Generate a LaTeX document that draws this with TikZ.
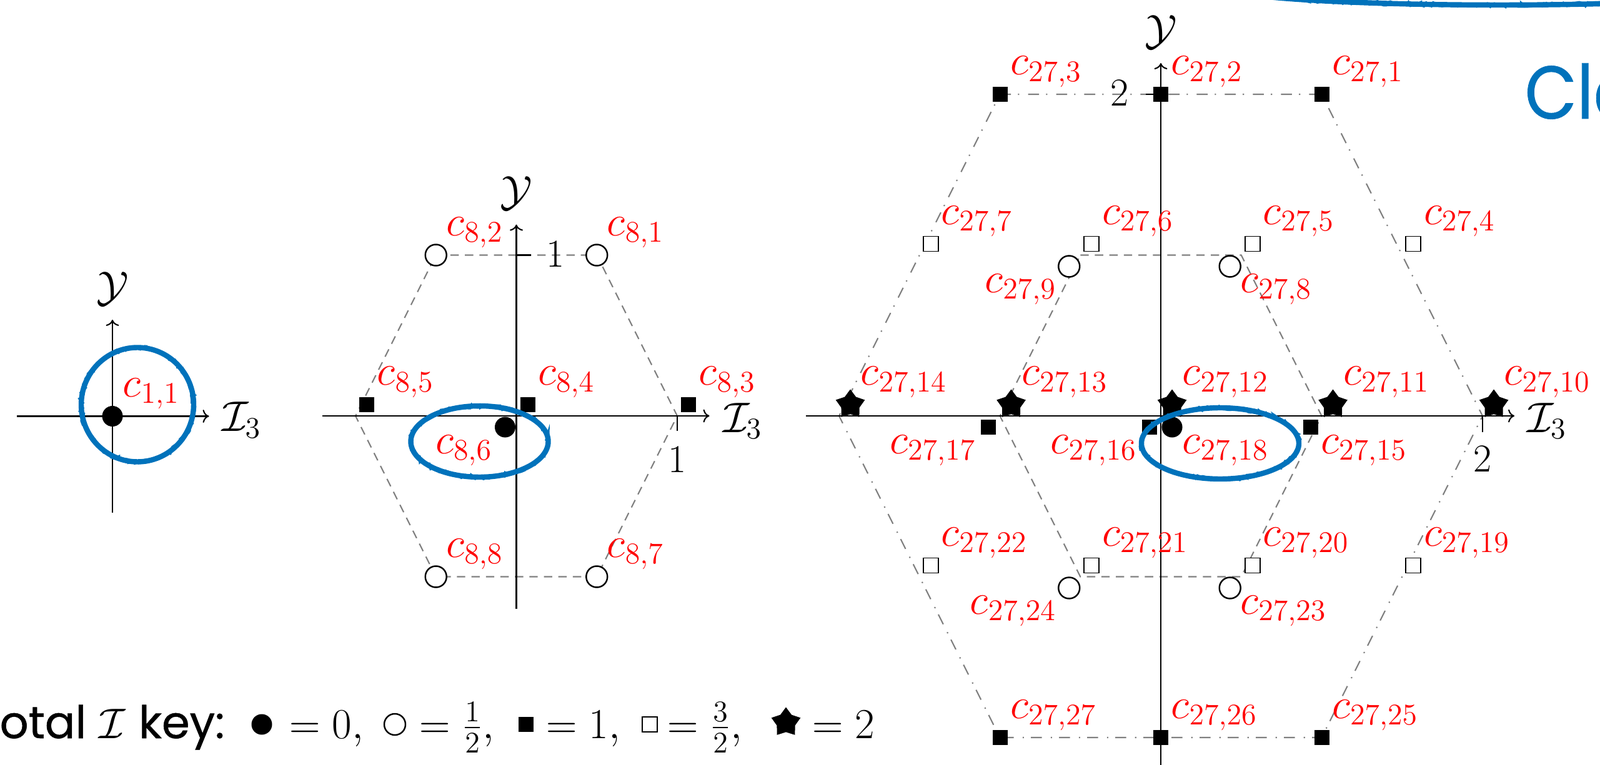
\RequirePackage{fix-cm}
\documentclass[tikz,border=0pt]{standalone}
\usepackage{fontspec}
\newfontfamily\keyfont[Scale=1.05,FakeBold=0.7]{Poppins}
\newfontfamily\titlefont[Scale=1.1,FakeStretch=0.9,FakeBold=0.7]{Poppins}
\usetikzlibrary{arrows.meta,shapes.geometric,decorations.pathmorphing}
\definecolor{pen}{RGB}{0,114,187}
\definecolor{hexgray}{RGB}{128,128,128}
\newcommand{\labsize}{\fontsize{19.5}{23}\selectfont}
\newcommand{\ticksize}{\fontsize{18}{22}\selectfont}

\begin{document}
\begin{tikzpicture}[
  axisline/.style={line width=0.6pt, -{To[length=1mm,width=2.1mm]}},
  axtick/.style={line width=0.6pt},
  hexdash/.style={draw=hexgray, line width=0.6pt, dash pattern=on 3.8pt off 2.8pt},
  hexdot/.style={draw=hexgray, line width=0.6pt,
    dash pattern=on 5pt off 3.2pt on 0.6pt off 4pt},
  fdot/.style={circle, fill=black, inner sep=0pt, minimum size=3.3mm},
  odot/.style={circle, draw=black, fill=white, line width=0.7pt,
    inner sep=0pt, minimum size=3.4mm},
  fsq/.style={rectangle, fill=black, inner sep=0pt, minimum size=2.4mm},
  osq/.style={rectangle, draw=black, fill=white, line width=0.5pt,
    inner sep=0pt, minimum size=2.4mm},
  fstar/.style={star, star points=5, star point ratio=1.6, fill=black,
    inner sep=0pt, minimum size=4.9mm},
  lab/.style={text=red, inner sep=0pt, font=\labsize},
  ar/.style={lab, anchor=base west, xshift=1.6mm, yshift=3.1mm},
  br/.style={lab, anchor=base west, xshift=1.6mm, yshift=-4.2mm},
  bl/.style={lab, anchor=base east, xshift=-2mm, yshift=-4.2mm},
  axlab/.style={inner sep=0pt, font=\labsize},
  ticklab/.style={inner sep=0pt, font=\ticksize},
  keytext/.style={inner sep=0pt, font=\labsize, anchor=base west},
  ring/.style={draw=pen, line width=2.4pt},
  roughring/.style={draw=pen, line width=1.3pt, decorate,
    decoration={random steps, segment length=1.2pt, amplitude=0.8pt}}
]
\useasboundingbox (0,0) rectangle (25.61,-12.25);

% Singlet: one state at the origin.
\begin{scope}[shift={(1.80,-6.665)}, x=2.575cm, y=2.575cm]
\draw[axisline] (-0.595,0) -- (0.6,0);
\draw[axisline] (0,-0.6) -- (0,0.6);
\node[axlab, anchor=west] (d1i) at (0.6,0) [xshift=2mm, yshift=-0.6mm] {$\mathcal{I}_3$};
\node[axlab] (d1y) at (0,0.6) [yshift=5mm] {$\mathcal{Y}$};

\node[fdot] (c1n1) at (0,0) {};
\node[ar] (l1n1) at (c1n1) {$c_{1,1}$};
\end{scope}

% Octet: hexagon with a doubly occupied centre.
\begin{scope}[shift={(8.265,-6.66)}, x=2.575cm, y=2.575cm]
\draw[hexdash] (-0.5,1) -- (0.5,1) -- (1,0) -- (0.5,-1) -- (-0.5,-1) -- (-1,0) -- cycle;
\draw[axisline] (-1.206,0) -- (1.2,0);
\draw[axisline] (0,-1.2) -- (0,1.19);
\draw[axtick] (0,1) -- (0.093,1);
\draw[axtick] (1,0) -- (1,-0.093);
\node[ticklab] (d2ty) at (0.243,1.006) {$1$};
\node[ticklab] (d2tx) at (1.0,-0.272) {$1$};
\node[axlab, anchor=west] (d2i) at (1.2,0) [xshift=2.1mm, yshift=-0.8mm] {$\mathcal{I}_3$};
\node[axlab] (d2y) at (0,1.19) [yshift=5mm] {$\mathcal{Y}$};

\node[odot] (c8n1) at (0.5,1) {};
\node[odot] (c8n2) at (-0.5,1) {};
\node[fsq]  (c8n3) at (1.07,0.07) {};
\node[fsq]  (c8n4) at (0.07,0.07) {};
\node[fsq]  (c8n5) at (-0.93,0.07) {};
\node[fdot] (c8n6) at (-0.07,-0.07) {};
\node[odot] (c8n7) at (0.5,-1) {};
\node[odot] (c8n8) at (-0.5,-1) {};

\node[ar] (l8n1) at (c8n1) {$c_{8,1}$};
\node[ar] (l8n2) at (c8n2) {$c_{8,2}$};
\node[ar] (l8n3) at (c8n3) {$c_{8,3}$};
\node[ar] (l8n4) at (c8n4) {$c_{8,4}$};
\node[ar] (l8n5) at (c8n5) {$c_{8,5}$};
\node[bl] (l8n6) at (c8n6) {$c_{8,6}$};
\node[ar] (l8n7) at (c8n7) {$c_{8,7}$};
\node[ar] (l8n8) at (c8n8) {$c_{8,8}$};
\end{scope}

% 27-plet: outer hexagon, inner hexagon and a crowded centre row.
\begin{scope}[shift={(18.58,-6.66)}, x=2.575cm, y=2.575cm]
\draw[hexdot] (-1,2) -- (1,2) -- (2,0) -- (1,-2) -- (-1,-2) -- (-2,0) -- cycle;
\draw[hexdash] (-0.5,1) -- (0.5,1) -- (1,0) -- (0.5,-1) -- (-0.5,-1) -- (-1,0) -- cycle;
\draw[axisline] (-2.206,0) -- (2.198,0);
\draw[axisline] (0,-2.3) -- (0,2.194);
\draw[axtick] (0,2) -- (-0.093,2);
\draw[axtick] (2,0) -- (2,-0.1);
\node[ticklab] (d3ty) at (-0.256,2.008) {$2$};
\node[ticklab] (d3tx) at (2.0,-0.268) {$2$};
\node[axlab, anchor=west] (d3i) at (2.198,0) [xshift=2mm, yshift=-0.8mm] {$\mathcal{I}_3$};
\node[axlab] (d3y) at (0,2.194) [yshift=5mm] {$\mathcal{Y}$};

\node[fsq]   (c27n1)  at (1,2) {};
\node[fsq]   (c27n2)  at (0,2) {};
\node[fsq]   (c27n3)  at (-1,2) {};
\node[osq]   (c27n4)  at (1.57,1.07) {};
\node[osq]   (c27n5)  at (0.57,1.07) {};
\node[osq]   (c27n6)  at (-0.43,1.07) {};
\node[osq]   (c27n7)  at (-1.43,1.07) {};
\node[odot]  (c27n8)  at (0.43,0.93) {};
\node[odot]  (c27n9)  at (-0.57,0.93) {};
\node[fstar] (c27n10) at (2.07,0.07) {};
\node[fstar] (c27n11) at (1.07,0.07) {};
\node[fstar] (c27n12) at (0.07,0.07) {};
\node[fstar] (c27n13) at (-0.93,0.07) {};
\node[fstar] (c27n14) at (-1.93,0.07) {};
\node[fsq]   (c27n15) at (0.93,-0.07) {};
\node[fsq]   (c27n16) at (-0.07,-0.07) {};
\node[fsq]   (c27n17) at (-1.07,-0.07) {};
\node[fdot]  (c27n18) at (0.07,-0.07) {};
\node[osq]   (c27n19) at (1.57,-0.93) {};
\node[osq]   (c27n20) at (0.57,-0.93) {};
\node[osq]   (c27n21) at (-0.43,-0.93) {};
\node[osq]   (c27n22) at (-1.43,-0.93) {};
\node[odot]  (c27n23) at (0.43,-1.07) {};
\node[odot]  (c27n24) at (-0.57,-1.07) {};
\node[fsq]   (c27n25) at (1,-2) {};
\node[fsq]   (c27n26) at (0,-2) {};
\node[fsq]   (c27n27) at (-1,-2) {};

\node[ar] (l27n1)  at (c27n1)  {$c_{27,1}$};
\node[ar] (l27n2)  at (c27n2)  {$c_{27,2}$};
\node[ar] (l27n3)  at (c27n3)  {$c_{27,3}$};
\node[ar] (l27n4)  at (c27n4)  {$c_{27,4}$};
\node[ar] (l27n5)  at (c27n5)  {$c_{27,5}$};
\node[ar] (l27n6)  at (c27n6)  {$c_{27,6}$};
\node[ar] (l27n7)  at (c27n7)  {$c_{27,7}$};
\node[br] (l27n8)  at (c27n8)  {$c_{27,8}$};
\node[bl] (l27n9)  at (c27n9)  {$c_{27,9}$};
\node[ar] (l27n10) at (c27n10) {$c_{27,10}$};
\node[ar] (l27n11) at (c27n11) {$c_{27,11}$};
\node[ar] (l27n12) at (c27n12) {$c_{27,12}$};
\node[ar] (l27n13) at (c27n13) {$c_{27,13}$};
\node[ar] (l27n14) at (c27n14) {$c_{27,14}$};
\node[br] (l27n15) at (c27n15) {$c_{27,15}$};
\node[bl] (l27n16) at (c27n16) {$c_{27,16}$};
\node[bl] (l27n17) at (c27n17) {$c_{27,17}$};
\node[br] (l27n18) at (c27n18) {$c_{27,18}$};
\node[ar] (l27n19) at (c27n19) {$c_{27,19}$};
\node[ar] (l27n20) at (c27n20) {$c_{27,20}$};
\node[ar] (l27n21) at (c27n21) {$c_{27,21}$};
\node[ar] (l27n22) at (c27n22) {$c_{27,22}$};
\node[br] (l27n23) at (c27n23) {$c_{27,23}$};
\node[bl] (l27n24) at (c27n24) {$c_{27,24}$};
\node[ar] (l27n25) at (c27n25) {$c_{27,25}$};
\node[ar] (l27n26) at (c27n26) {$c_{27,26}$};
\node[ar] (l27n27) at (c27n27) {$c_{27,27}$};
\end{scope}

% Key along the bottom edge.
\node[keytext] (keyname) at (-0.40,-11.82) {{\keyfont Total} $\mathcal{I}$ {\keyfont key:}};
\node[fdot]    (keyf0) at (4.19,-11.60) {};
\node[keytext] (keyv0) at (4.63,-11.82) {$=0,$};
\node[odot]    (keyf1) at (6.32,-11.60) {};
\node[keytext] (keyv1) at (6.71,-11.82) {$=\frac{1}{2},$};
\node[fsq]     (keyf2) at (8.42,-11.60) {};
\node[keytext] (keyv2) at (8.74,-11.82) {$=1,$};
\node[osq]     (keyf3) at (10.40,-11.60) {};
\node[keytext] (keyv3) at (10.68,-11.82) {$=\frac{3}{2},$};
\node[fstar]   (keyf4) at (12.58,-11.57) {};
\node[keytext] (keyv4) at (13.00,-11.82) {$=2$};

% Heading, cut by the right edge.
\node[anchor=base west, inner sep=0pt, text=pen, font=\fontsize{31}{36}\selectfont\titlefont]
  (title) at (24.40,-1.90) {Cle};

% Hand-drawn highlight rings.
\draw[ring] (2.20,-6.48) ellipse [x radius=0.90, y radius=0.915];
\draw[roughring] (2.20,-6.48) ellipse [x radius=0.90, y radius=0.915];
\draw[ring] (7.675,-7.07) ellipse [x radius=1.10, y radius=0.57];
\draw[roughring] (7.675,-7.07) ellipse [x radius=1.10, y radius=0.57];
\draw[ring] (19.53,-7.10) ellipse [x radius=1.26, y radius=0.57];
\draw[roughring] (19.53,-7.10) ellipse [x radius=1.26, y radius=0.57];
\draw[ring] (24.0,0.22) ellipse [x radius=4.5, y radius=0.30];
\draw[roughring] (24.0,0.22) ellipse [x radius=4.5, y radius=0.30];

\end{tikzpicture}
\end{document}
